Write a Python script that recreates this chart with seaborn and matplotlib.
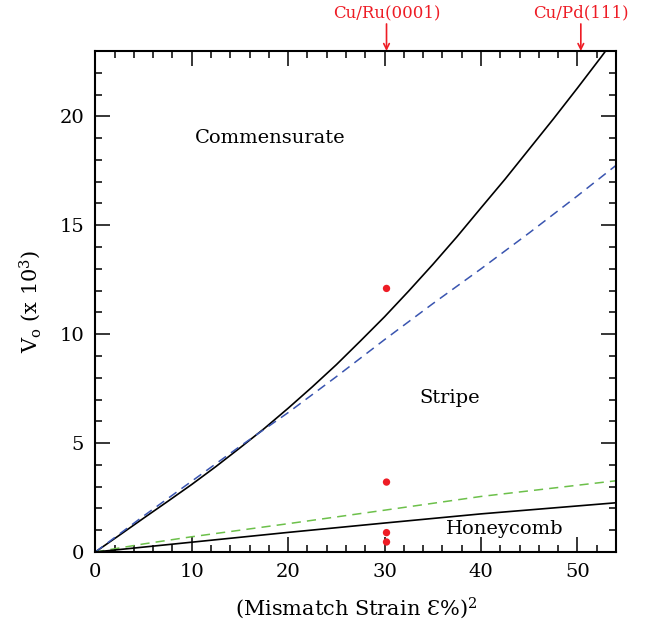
import matplotlib
matplotlib.use("Agg")
import matplotlib.pyplot as plt
from matplotlib.ticker import MultipleLocator
import seaborn as sns

# ---- data ----
upper_x = [0, 2.5, 5, 7.5, 10, 12.5, 15, 17.5, 20, 22.5, 25, 27.5, 30, 32.5, 35, 37.5, 40, 42.5, 45, 47.5, 50, 52.5, 54]
upper_y = [0, 0.77, 1.55, 2.32, 3.1, 3.92, 4.78, 5.66, 6.6, 7.58, 8.6, 9.69, 10.8, 11.98, 13.2, 14.47, 15.8, 17.12, 18.5, 19.88, 21.3, 22.75, 23.65]

blue_x = [0, 5, 10, 15, 20, 25, 30, 35, 40, 45, 50, 54]
blue_y = [0, 1.65, 3.25, 4.85, 6.4, 8.05, 9.75, 11.4, 13.0, 14.65, 16.35, 17.75]

green_x = [0, 5, 10, 20, 30, 40, 54]
green_y = [0, 0.37, 0.7, 1.3, 1.92, 2.55, 3.27]

lower_x = [0, 10, 20, 30, 40, 54]
lower_y = [0, 0.45, 0.9, 1.33, 1.75, 2.26]

dots_x = [30.2, 30.2, 30.2, 30.2]
dots_y = [12.1, 3.21, 0.89, 0.46]

systems = ["Cu/Ru(0001)", "Cu/Pd(111)"]
systems_x = [30.2, 50.35]

regions = ["Commensurate", "Stripe", "Honeycomb"]
regions_x = [18.1, 36.8, 42.5]
regions_y = [19.0, 7.06, 1.05]

sns.set_style("ticks")
plt.rcParams["font.family"] = ["DejaVu Serif", "DejaVu Sans"]
plt.rcParams["mathtext.fontset"] = "dejavuserif"
plt.rcParams["text.color"] = "black"
plt.rcParams["axes.labelcolor"] = "black"
plt.rcParams["xtick.color"] = "black"
plt.rcParams["ytick.color"] = "black"
plt.rcParams["axes.edgecolor"] = "black"

fig = plt.figure(figsize=(6.46, 6.25), dpi=100)
ax = fig.add_axes([0.1475, 0.1168, 0.8061, 0.8016])

sns.lineplot(x=upper_x, y=upper_y, ax=ax, color="black", lw=1.2)
sns.lineplot(x=blue_x, y=blue_y, ax=ax, color="#3a55b0", lw=1.1)
ax.lines[-1].set_dashes((6, 4))
sns.lineplot(x=green_x, y=green_y, ax=ax, color="#6cc04a", lw=1.1)
ax.lines[-1].set_dashes((6, 4))
sns.lineplot(x=lower_x, y=lower_y, ax=ax, color="black", lw=1.2)
sns.scatterplot(x=dots_x, y=dots_y, ax=ax, color="#ee1c25", s=28, edgecolor="none", zorder=5)

ax.set_xlim(0, 54)
ax.set_ylim(0, 23)
ax.xaxis.set_major_locator(MultipleLocator(10))
ax.xaxis.set_minor_locator(MultipleLocator(2))
ax.yaxis.set_major_locator(MultipleLocator(5))
ax.yaxis.set_minor_locator(MultipleLocator(1))
ax.tick_params(which="both", direction="in", top=True, right=True, width=1.1,
               labelsize=14, pad=8, colors="black")
ax.tick_params(which="major", length=11)
ax.tick_params(which="minor", length=5)
for s in ax.spines.values():
    s.set_linewidth(1.5)
    s.set_color("black")

ax.set_xlabel("(Mismatch Strain Ɛ%)$^2$", fontsize=15, labelpad=10, color="black")
ax.set_ylabel("V$_\\mathregular{o}$ (x 10$^3$)", fontsize=15, labelpad=12, color="black")

for t, x, y in zip(regions, regions_x, regions_y):
    ax.text(x, y, t, fontsize=14, ha="center", va="center", color="black")

for t, x in zip(systems, systems_x):
    ax.annotate("", xy=(x, 1.0), xycoords=("data", "axes fraction"),
                xytext=(x, 1.054), textcoords=("data", "axes fraction"),
                arrowprops=dict(arrowstyle="->", color="#ee1c25", lw=1.2, shrinkA=0, shrinkB=0))
    ax.text(x, 1.06, t, transform=ax.get_xaxis_transform(), color="#ee1c25",
            fontsize=12, ha="center", va="bottom", clip_on=False)

fig.savefig("out.png", dpi=100)
